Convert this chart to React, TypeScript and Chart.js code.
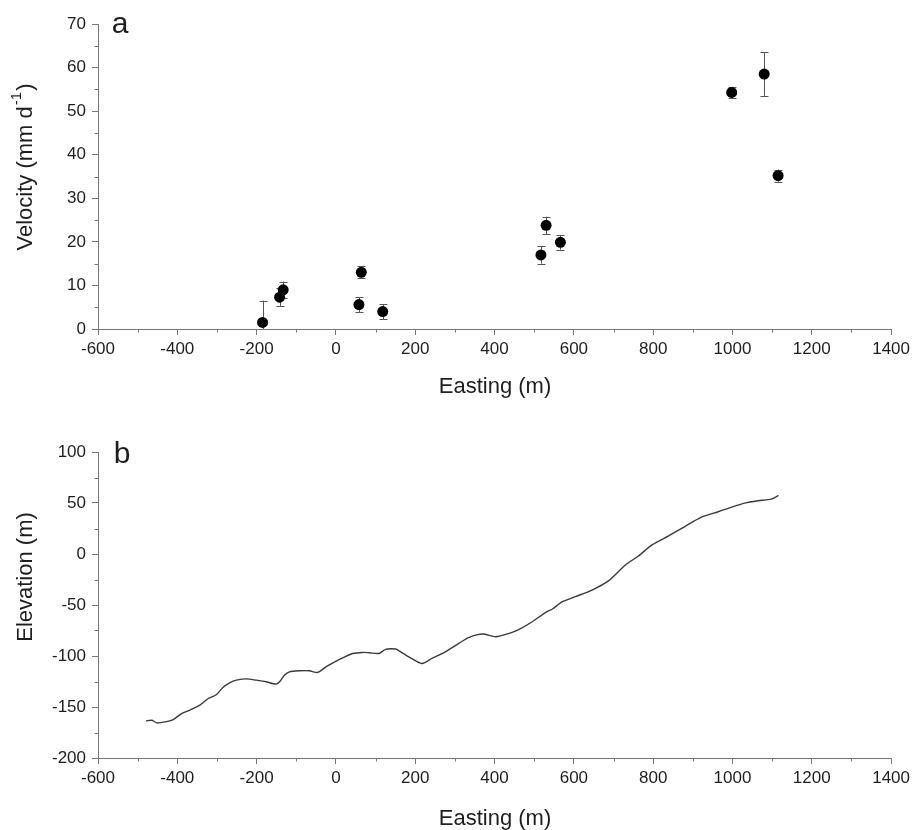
import React, { useEffect, useRef } from 'react';
import { Chart, registerables } from 'chart.js';

Chart.register(...registerables);

const FONT = '"Liberation Sans", Arial, Helvetica, sans-serif';
const TEXT = '#1e1e1e';
const AXIS = '#777';

// Panel a: velocity vs easting
const velEasting = [-185, -142, -133, 58, 64, 118, 517, 530, 566, 998, 1080, 1115];
const velocity = [1.5, 7.3, 9.0, 5.6, 13.0, 4.0, 17.0, 23.8, 19.9, 54.3, 58.5, 35.2];
const velError = [5.0, 2.0, 1.9, 1.7, 1.4, 1.7, 2.0, 2.0, 1.7, 1.3, 5.0, 1.4];

// Panel b: elevation profile
const profileEasting = [
  -479, -464, -452, -427, -410, -389, -368, -343, -322, -301, -285, -268, -251, -226, -201,
  -176, -151, -142, -130, -117, -92, -67, -46, -25, -4, 17, 42, 67, 84, 109, 125, 151, 159,
  184, 217, 242, 276, 310, 336, 370, 403, 437, 462, 495, 529, 546, 571, 604, 646, 688, 730,
  763, 797, 839, 880, 922, 964, 998, 1031, 1065, 1098, 1116,
];
const profileElevation = [
  -163.6, -163, -165.6, -164.3, -162.3, -156.4, -153, -148.2, -141.7, -137.8, -130.8, -126.3,
  -123.7, -122.4, -123.7, -125.3, -127.6, -125.3, -118.8, -115.5, -114.5, -114.5, -116.1,
  -110.6, -106, -101.8, -97.5, -96.5, -96.8, -97.5, -93.5, -93.2, -94.9, -100.8, -107.3,
  -102.4, -95.9, -87.6, -81.7, -78.5, -81.1, -77.8, -73.9, -66.4, -57.2, -53.9, -46.8, -41.8,
  -35.3, -26.1, -10.7, -1.9, 8.9, 17.8, 26.9, 36.1, 41.4, 46.0, 49.9, 52.2, 53.8, 57.4,
];

// Axis ranges / ticks
const xRange = { min: -600, max: 1400, step: 200, minor: 100 };
const velRange = { min: 0, max: 70, step: 10, minor: 5 };
const elevRange = { min: -200, max: 100, step: 50, minor: 25 };

type Decor = {
  xTitle: { text: string; x: number; y: number };
  yTitle: { main: string; sup?: string; end?: string; x: number; y: number; size: number };
  panel: { text: string; x: number; y: number };
  xMinor: number;
  yMinor: number;
  errors?: { xs: number[]; ys: number[]; errs: number[] };
};

function makeDecor(d: Decor) {
  return {
    id: 'decor',
    beforeDatasetsDraw(chart: any) {
      if (!d.errors) return;
      const ctx = chart.ctx;
      const xs = chart.scales.x;
      const ys = chart.scales.y;
      const area = chart.chartArea;
      ctx.save();
      ctx.strokeStyle = '#555';
      ctx.lineWidth = 1;
      const cap = 4;
      d.errors.xs.forEach((xv, i) => {
        const px = Math.round(xs.getPixelForValue(xv)) + 0.5;
        const t = ys.getPixelForValue(d.errors!.ys[i] + d.errors!.errs[i]);
        const b = ys.getPixelForValue(d.errors!.ys[i] - d.errors!.errs[i]);
        const tc = Math.max(t, area.top);
        const bc = Math.min(b, area.bottom);
        ctx.beginPath();
        ctx.moveTo(px, tc);
        ctx.lineTo(px, bc);
        if (t >= area.top) {
          ctx.moveTo(px - cap, Math.round(t) + 0.5);
          ctx.lineTo(px + cap, Math.round(t) + 0.5);
        }
        if (b <= area.bottom) {
          ctx.moveTo(px - cap, Math.round(b) + 0.5);
          ctx.lineTo(px + cap, Math.round(b) + 0.5);
        }
        ctx.stroke();
      });
      ctx.restore();
    },
    afterDraw(chart: any) {
      const ctx = chart.ctx;
      const xs = chart.scales.x;
      const ys = chart.scales.y;
      const area = chart.chartArea;
      ctx.save();
      // minor ticks
      ctx.strokeStyle = AXIS;
      ctx.lineWidth = 1;
      ctx.beginPath();
      for (let v = xs.min + d.xMinor; v < xs.max; v += 2 * d.xMinor) {
        const px = Math.round(xs.getPixelForValue(v)) + 0.5;
        ctx.moveTo(px, area.bottom);
        ctx.lineTo(px, area.bottom + 3.5);
      }
      for (let v = ys.min + d.yMinor; v < ys.max; v += 2 * d.yMinor) {
        const py = Math.round(ys.getPixelForValue(v)) + 0.5;
        ctx.moveTo(area.left, py);
        ctx.lineTo(area.left - 3.5, py);
      }
      ctx.stroke();

      ctx.fillStyle = TEXT;
      // x title
      ctx.font = `22px ${FONT}`;
      ctx.textAlign = 'center';
      ctx.textBaseline = 'middle';
      ctx.fillText(d.xTitle.text, d.xTitle.x, d.xTitle.y);

      // y title (rotated)
      const yt = d.yTitle;
      ctx.save();
      ctx.translate(yt.x, yt.y);
      ctx.rotate(-Math.PI / 2);
      ctx.textAlign = 'left';
      ctx.textBaseline = 'middle';
      const mainFont = `${yt.size}px ${FONT}`;
      const supFont = `${Math.round(yt.size * 0.68)}px ${FONT}`;
      ctx.font = mainFont;
      const w1 = ctx.measureText(yt.main).width;
      const w3 = yt.end ? ctx.measureText(yt.end).width : 0;
      ctx.font = supFont;
      const w2 = yt.sup ? ctx.measureText(yt.sup).width + 2 : 0;
      const start = -(w1 + w2 + w3) / 2;
      ctx.font = mainFont;
      ctx.fillText(yt.main, start, 0);
      if (yt.sup) {
        ctx.font = supFont;
        ctx.fillText(yt.sup, start + w1 + 1, -yt.size * 0.4);
      }
      if (yt.end) {
        ctx.font = mainFont;
        ctx.fillText(yt.end, start + w1 + w2, 0);
      }
      ctx.restore();

      // panel letter
      ctx.font = `30px ${FONT}`;
      ctx.textAlign = 'center';
      ctx.textBaseline = 'alphabetic';
      ctx.fillText(d.panel.text, d.panel.x, d.panel.y);
      ctx.restore();
    },
  };
}

function axisX(height: number) {
  return {
    type: 'linear' as const,
    min: xRange.min,
    max: xRange.max,
    afterFit(scale: any) {
      scale.height = height;
    },
    ticks: {
      stepSize: xRange.step,
      padding: 4,
      color: TEXT,
      font: { size: 17, family: FONT },
      maxRotation: 0,
      autoSkip: false,
      callback: (v: any) => String(v),
    },
    grid: {
      display: true,
      drawOnChartArea: false,
      drawTicks: true,
      tickLength: 6,
      color: AXIS,
      tickColor: AXIS,
    },
    border: { display: true, color: AXIS, width: 1 },
  };
}

function axisY(r: { min: number; max: number; step: number }) {
  return {
    type: 'linear' as const,
    min: r.min,
    max: r.max,
    afterFit(scale: any) {
      scale.width = 98;
    },
    ticks: {
      stepSize: r.step,
      padding: 6,
      color: TEXT,
      font: { size: 17, family: FONT },
      autoSkip: false,
      callback: (v: any) => String(v),
    },
    grid: {
      display: true,
      drawOnChartArea: false,
      drawTicks: true,
      tickLength: 6,
      color: AXIS,
      tickColor: AXIS,
    },
    border: { display: true, color: AXIS, width: 1 },
  };
}

export default function App() {
  const topRef = useRef<HTMLCanvasElement>(null);
  const botRef = useRef<HTMLCanvasElement>(null);

  useEffect(() => {
    Chart.defaults.font.family = FONT;
    const top = new Chart(topRef.current!, {
      type: 'scatter',
      data: {
        datasets: [
          {
            data: velEasting.map((x, i) => ({ x, y: velocity[i] })),
            backgroundColor: '#000',
            borderColor: '#000',
            borderWidth: 0,
            pointRadius: 5.5,
          },
        ],
      },
      options: {
        responsive: false,
        animation: false,
        events: [],
        layout: { autoPadding: false, padding: { left: 0, right: 21, top: 24, bottom: 0 } },
        plugins: { legend: { display: false }, tooltip: { enabled: false } },
        scales: { x: axisX(71), y: axisY(velRange) },
      },
      plugins: [
        makeDecor({
          xTitle: { text: 'Easting (m)', x: 495, y: 387 },
          yTitle: { main: 'Velocity (mm d', sup: '-1', end: ')', x: 26, y: 167, size: 22 },
          panel: { text: 'a', x: 120, y: 33 },
          xMinor: xRange.minor,
          yMinor: velRange.minor,
          errors: { xs: velEasting, ys: velocity, errs: velError },
        }),
      ],
    } as any);

    const bot = new Chart(botRef.current!, {
      type: 'scatter',
      data: {
        datasets: [
          {
            data: profileEasting.map((x, i) => ({ x, y: profileElevation[i] })),
            showLine: true,
            borderColor: '#3a3a3a',
            borderWidth: 1.4,
            pointRadius: 0,
            tension: 0.25,
            fill: false,
          },
        ],
      },
      options: {
        responsive: false,
        animation: false,
        events: [],
        layout: { autoPadding: false, padding: { left: 0, right: 21, top: 52, bottom: 0 } },
        plugins: { legend: { display: false }, tooltip: { enabled: false } },
        scales: { x: axisX(72), y: axisY(elevRange) },
      },
      plugins: [
        makeDecor({
          xTitle: { text: 'Easting (m)', x: 495, y: 419 },
          yTitle: { main: 'Elevation (m)', x: 26, y: 177, size: 22 },
          panel: { text: 'b', x: 122, y: 63 },
          xMinor: xRange.minor,
          yMinor: elevRange.minor,
        }),
      ],
    } as any);

    return () => {
      top.destroy();
      bot.destroy();
    };
  }, []);

  return (
    <div style={{ position: 'absolute', left: 0, top: 0, width: 914, height: 830, background: '#fff' }}>
      <canvas ref={topRef} width={914} height={400} style={{ position: 'absolute', left: 0, top: 0 }} />
      <canvas ref={botRef} width={914} height={430} style={{ position: 'absolute', left: 0, top: 400 }} />
    </div>
  );
}
